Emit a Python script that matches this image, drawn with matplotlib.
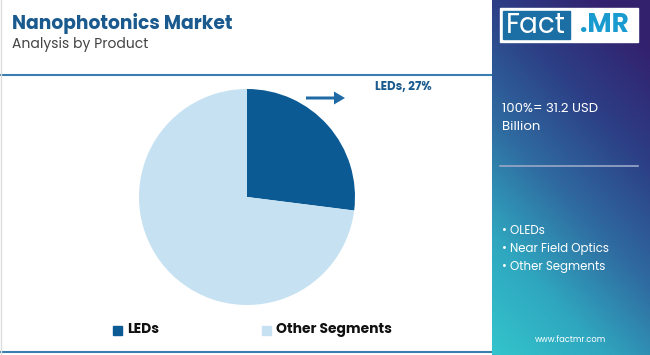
import numpy as np
import matplotlib
matplotlib.use('Agg')
import matplotlib.pyplot as plt
from matplotlib.patches import Rectangle, FancyArrow
from matplotlib.colors import LinearSegmentedColormap

# Data
segments = ['LEDs', 'Other Segments']
shares = [27, 73]
colors = ['#0b5a94', '#c6e1f1']
other_products = ['OLEDs', 'Near Field Optics', 'Other Segments']
total_label = '100%= 31.2 USD\nBillion'

plt.rcParams['font.family'] = ['Poppins', 'Open Sans', 'DejaVu Sans']

W, H = 650, 355
fig = plt.figure(figsize=(W/100, H/100), dpi=100)

# background canvas in pixel coordinates
bg = fig.add_axes([0, 0, 1, 1])
bg.set_xlim(0, W)
bg.set_ylim(H, 0)
bg.axis('off')

# right side panel gradient
px0 = 492
ny, nx = 120, 60
yy, xx = np.mgrid[0:1:ny*1j, 0:1:nx*1j]
t = np.clip(0.75*yy + 0.35*(1-xx) - 0.1, 0, 1)
cmap = LinearSegmentedColormap.from_list('panel', ['#33216e', '#2c3f86', '#2f6aa0', '#2fa6bf', '#33c4cc'])
bg.imshow(t, cmap=cmap, extent=[px0, W, H, 0], aspect='auto', zorder=0)

# logo
bg.add_patch(Rectangle((500, 8), 138, 34, color='white', zorder=2))
bg.add_patch(Rectangle((503, 11), 67, 28, color='#1c6fa4', zorder=3))
bg.text(536, 26, 'Fact', color='white', fontsize=20, ha='center', va='center', zorder=4)
bg.text(604, 26, '.MR', color='#1a9bd0', fontsize=19, fontweight='bold', ha='center', va='center', zorder=4)

# panel texts
bg.text(502, 118, total_label, color='white', fontsize=9.5, ha='left', va='center', linespacing=1.75)
bg.plot([500, 638], [166, 166], color='#9aa8c8', lw=1.2)
for i, name in enumerate(other_products):
    bg.text(502, 231 + 18*i, '\u2022 ' + name, color='white', fontsize=8.5, ha='left', va='center')
bg.text(571, 340, 'www.factmr.com', color='white', fontsize=6, ha='center', va='center')

# title block
bg.text(12, 24, 'Nanophotonics Market', color='#1a5a8e', fontsize=13.5, fontweight='bold', ha='left', va='center')
bg.text(12, 45, 'Analysis by Product', color='#444444', fontsize=10, ha='left', va='center')
bg.plot([0, 491], [75, 75], color='#3b7fb0', lw=1.5)
bg.plot([0, 491], [352, 352], color='#3b7fb0', lw=1.5)
bg.plot([0.5, 0.5], [0, H], color='#dddddd', lw=1)

# pie
cx, cy, r = 247, 197, 108
pax = fig.add_axes([(cx-r)/W, (H-cy-r)/H, 2*r/W, 2*r/H])
pax.pie(shares, colors=colors, startangle=90, counterclock=False, radius=1,
        wedgeprops=dict(linewidth=0))
pax.set_xlim(-1, 1)
pax.set_ylim(-1, 1)
pax.set_aspect('equal')

# annotation
bg.add_patch(FancyArrow(306, 98, 28, 0, width=3, head_width=13, head_length=11,
                        length_includes_head=False, color='#1f6aa5', lw=0))
bg.text(375, 87, segments[0] + ', %d%%' % shares[0], color='#1a5a8e', fontsize=8.5,
        fontweight='bold', ha='left', va='center')

# legend
lx = [113, 262]
for x, name, c in zip(lx, segments, colors):
    bg.add_patch(Rectangle((x, 326), 9, 9, color=c))
    bg.text(x + 14, 330, name, color='#111111', fontsize=10, fontweight='bold', ha='left', va='center')

plt.savefig('out.png', dpi=100)
